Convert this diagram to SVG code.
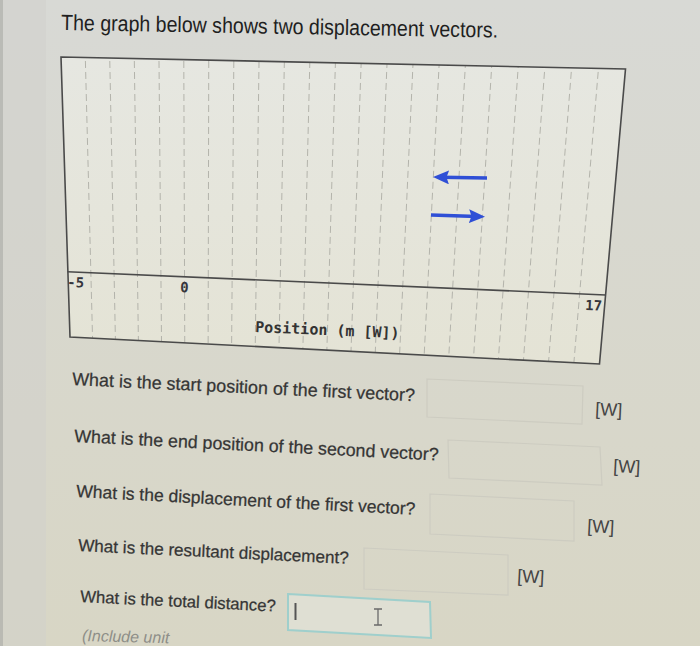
<svg xmlns="http://www.w3.org/2000/svg" width="700" height="646" viewBox="0 0 700 646">
  <defs>
    <linearGradient id="bg" x1="0" y1="0" x2="0" y2="1">
      <stop offset="0" stop-color="#d8d9d5"/>
      <stop offset="1" stop-color="#d8d6c5"/>
    </linearGradient>
    <linearGradient id="plotbg" x1="0" y1="0" x2="0" y2="1">
      <stop offset="0" stop-color="#e6e7e1"/>
      <stop offset="1" stop-color="#e4e3d5"/>
    </linearGradient>
    <clipPath id="plotclip">
      <polygon points="61,57 625.5,69 599.5,364 70,337"/>
    </clipPath>
    <marker id="head" viewBox="0 0 16 14" markerWidth="16" markerHeight="14" refX="8" refY="7" orient="auto" markerUnits="userSpaceOnUse">
      <path d="M0,0 L16,7 L0,14 L2.5,7 z" fill="#2f4fd6"/>
    </marker>
    <style>
      .grid line { stroke: #b3b3ab; stroke-width: 1; stroke-dasharray: 7 4; }
      .frame { fill: none; stroke: #4a4a4a; stroke-width: 1.6; }
      .axis { stroke: #4a4a4a; stroke-width: 1.6; }
      .tick { font-family: "DejaVu Sans Mono", "Liberation Mono", monospace; font-weight: bold; font-size: 14px; fill: #36363c; }
      .xlabel { font-family: "DejaVu Sans Mono", "Liberation Mono", monospace; font-weight: bold; font-size: 15px; fill: #333333; }
      .vec { stroke: #2f4fd6; stroke-width: 3.5; fill: none; marker-end: url(#head); }
      .q { font-family: "Liberation Sans", Arial, sans-serif; fill: #353535; stroke: #353535; stroke-width: 0.25; }
      .unit { font-family: "Liberation Sans", Arial, sans-serif; font-size: 18px; fill: #444444; }
      .inbox { fill: none; stroke: #cdccc1; stroke-width: 1.2; }
      .title { font-family: "Liberation Sans", Arial, sans-serif; font-size: 22px; fill: #1f1f1f; }
    </style>
  </defs>

  <!-- page background -->
  <rect x="0" y="0" width="700" height="646" fill="url(#bg)"/>
  <rect x="0" y="0" width="46" height="646" fill="#cfd0cb" opacity="0.5"/>
  <rect x="0" y="0" width="3" height="646" fill="#a9aaa5" opacity="0.6"/>

  <text class="title" x="61" y="30" textLength="437" lengthAdjust="spacingAndGlyphs" transform="rotate(1 61 30)">The graph below shows two displacement vectors.</text>

  <!-- plot -->
  <g id="plot">
    <polygon points="61,57 625.5,69 599.5,364 70,337" fill="url(#plotbg)"/>
    <g class="grid" clip-path="url(#plotclip)">
      <line x1="85.11" y1="50" x2="93.37" y2="370"/>
      <line x1="109.57" y1="50" x2="116.03" y2="370"/>
      <line x1="134.16" y1="50" x2="138.83" y2="370"/>
      <line x1="158.9" y1="50" x2="161.77" y2="370"/>
      <line x1="183.76" y1="50" x2="184.85" y2="370"/>
      <line x1="208.76" y1="50" x2="208.07" y2="370"/>
      <line x1="233.9" y1="50" x2="231.43" y2="370"/>
      <line x1="259.17" y1="50" x2="254.93" y2="370"/>
      <line x1="284.58" y1="50" x2="278.57" y2="370"/>
      <line x1="310.12" y1="50" x2="302.36" y2="370"/>
      <line x1="335.8" y1="50" x2="326.28" y2="370"/>
      <line x1="361.61" y1="50" x2="350.35" y2="370"/>
      <line x1="387.56" y1="50" x2="374.55" y2="370"/>
      <line x1="413.65" y1="50" x2="398.9" y2="370"/>
      <line x1="439.87" y1="50" x2="423.39" y2="370"/>
      <line x1="466.22" y1="50" x2="448.01" y2="370"/>
      <line x1="492.71" y1="50" x2="472.78" y2="370"/>
      <line x1="519.33" y1="50" x2="497.69" y2="370"/>
      <line x1="546.09" y1="50" x2="522.74" y2="370"/>
      <line x1="572.99" y1="50" x2="547.93" y2="370"/>
      <line x1="600.01" y1="50" x2="573.27" y2="370"/>
    </g>
    <line class="axis" x1="67.5" y1="271.7" x2="605.6" y2="295"/>
    <polygon class="frame" points="61,57 625.5,69 599.5,364 70,337"/>
    <text class="tick" x="67" y="287" transform="rotate(2.5 67 287)">-5</text>
    <text class="tick" x="180" y="292" transform="rotate(2.5 180 292)">0</text>
    <text class="tick" x="585" y="310" transform="rotate(2.5 585 310)">17</text>
    <text class="xlabel" x="255" y="332" transform="rotate(2.5 255 332)">Position (m [W])</text>
  </g>

  <!-- vectors -->
  <g id="connectors">
    <line class="vec" x1="487" y1="178" x2="441" y2="177.2"/>
    <line class="vec" x1="431" y1="215" x2="477" y2="216.4"/>
  </g>

  <!-- questions -->
  <g id="q1">
    <text class="q" x="72" y="385" font-size="17.9" transform="rotate(2.7 72 385)">What is the start position of the first vector?</text>
    <polygon class="inbox" points="427,379 583,386 582,424 427,417"/>
    <text class="unit" x="595" y="415" transform="rotate(2.7 595 415)">[W]</text>
  </g>
  <g id="q2">
    <text class="q" x="74" y="442" font-size="17.8" transform="rotate(2.9 74 442)">What is the end position of the second vector?</text>
    <polygon class="inbox" points="448,440 600,447 602,485 449,478"/>
    <text class="unit" x="613" y="472" transform="rotate(2.8 613 472)">[W]</text>
  </g>
  <g id="q3">
    <text class="q" x="76" y="497" font-size="17.5" transform="rotate(3 76 497)">What is the displacement of the first vector?</text>
    <polygon class="inbox" points="430,494 574,501 574,541 430,534"/>
    <text class="unit" x="587" y="532" transform="rotate(2.8 587 532)">[W]</text>
  </g>
  <g id="q4">
    <text class="q" x="78" y="551" font-size="17.1" transform="rotate(2.7 78 551)">What is the resultant displacement?</text>
    <polygon class="inbox" points="364,548 508,555 508,595 364,589"/>
    <text class="unit" x="517" y="582" transform="rotate(2.8 517 582)">[W]</text>
  </g>
  <g id="q5">
    <text class="q" x="80" y="602" font-size="16.7" transform="rotate(2.8 80 602)">What is the total distance?</text>
    <polygon points="288,594 430,602 431,638 288,630" fill="#dfdfd3" stroke="#9fcfcc" stroke-width="2"/>
    <line x1="295.5" y1="603" x2="295.5" y2="620" stroke="#555555" stroke-width="2"/>
    <path d="M374,609 L382,609 M378,609 L378,625 M374,625 L382,625" stroke="#6a6a6a" stroke-width="1.3" fill="none"/>
    <text x="82" y="641" font-family="'Liberation Sans', Arial, sans-serif" font-size="16" font-style="italic" fill="#8e8e88" transform="rotate(1.5 82 641)">(Include unit</text>
  </g>
</svg>
